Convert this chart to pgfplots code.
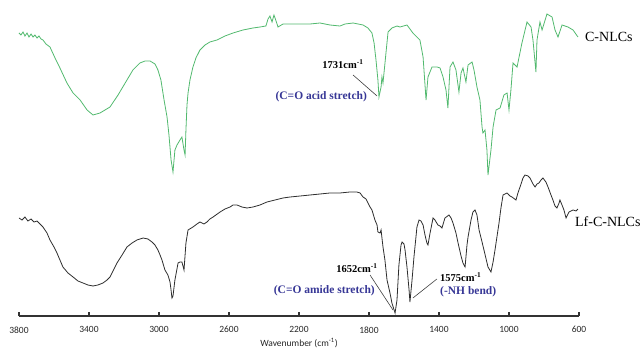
\documentclass[border=0pt]{standalone}
\usepackage{fontspec}
\setmainfont{Liberation Serif}
\newfontfamily\carlito{Carlito}
\usepackage{pgfplots}
\pgfplotsset{compat=1.18}
\definecolor{cgreen}{RGB}{82,185,110}
\definecolor{cblack}{RGB}{45,45,45}
\definecolor{cblue}{RGB}{55,55,150}
\begin{document}
\begin{tikzpicture}
\useasboundingbox (-19pt,-35pt) rectangle (624pt,316pt);
\begin{axis}[
  at={(0pt,0pt)}, anchor=south west, scale only axis,
  width=560pt, height=316pt,
  xmin=600, xmax=3800, x dir=reverse, ymin=0, ymax=316,
  axis x line=bottom, axis y line=none,
  x axis line style={-, line width=1.2pt, black!80},
  xtick={600,1000,...,3800}, tick align=inside, major tick length=4pt,
  xtick style={line width=1.2pt, black!80},
  xticklabel style={font=\carlito\fontsize{9.5}{11}\selectfont, text=black!85, yshift=-7pt},
  /pgf/number format/1000 sep={}, /pgf/number format/assume math mode=true,
  xlabel={Wavenumber (cm\textsuperscript{-1})},
  xlabel style={font=\carlito\fontsize{9.5}{11}\selectfont, text=black!85, yshift=2pt},
  clip=false,
]
% C-NLCs (green)
\addplot[cgreen, line width=0.8pt] coordinates {
(3800,283)(3789,281)(3777,284)(3766,280)(3754,283)(3743,279)(3731,282)(3720,279)(3709,281)(3697,278)(3686,280)(3674,277)(3663,276)
(3646,272)(3623,269)(3594,258)(3566,248)(3526,233)(3491,223)(3451,216)(3411,206)(3377,201)(3337,203)(3280,209)(3234,221)(3183,236)
(3149,246)(3109,253)(3080,255)(3051,255)(3023,252)(3006,246)(2989,236)(2971,216)(2954,199)(2943,181)(2931,156)(2920,144)(2909,166)
(2897,171)(2880,176)(2869,179)(2857,166)(2851,161)(2846,186)(2840,211)(2834,223)(2823,236)(2806,249)(2789,258)(2766,266)(2737,271)
(2709,274)(2669,276)(2623,280)(2577,283)(2520,286)(2463,288)(2423,289)(2389,290)(2377,297)(2366,300)(2354,294)(2343,301)(2331,295)
(2320,289)(2291,292)(2251,292)(2194,292)(2137,292)(2080,293)(2023,291)(1966,290)(1937,292)(1891,293)(1834,291)(1806,288)(1783,283)
(1771,273)(1760,256)(1749,236)(1743,219)(1731,229)(1726,239)(1720,233)(1703,263)(1691,284)(1669,288)(1640,290)(1623,289)(1583,291)
(1549,283)(1509,276)(1491,259)(1474,216)(1463,239)(1440,249)(1411,249)(1394,248)(1377,239)(1360,226)(1349,208)(1337,249)(1320,254)
(1303,246)(1286,224)(1274,243)(1263,248)(1246,234)(1234,251)(1211,254)(1200,246)(1183,229)(1166,216)(1154,189)(1149,183)(1137,186)
(1126,166)(1120,141)(1103,166)(1091,189)(1074,206)(1051,208)(1029,221)(1011,223)(1000,206)(989,226)(977,253)(954,249)(926,273)
(897,294)(874,289)(863,276)(846,244)(840,276)(823,294)(811,286)(783,302)(754,299)(737,286)(720,279)(697,291)(663,289)(634,286)(606,279)
};
% Lf-C-NLCs (black)
\addplot[cblack, line width=0.8pt] coordinates {
(3800,98)(3783,96)(3766,99)(3749,95)(3731,97)(3714,94)(3697,95)(3680,92)(3663,89)(3640,83)(3623,76)(3600,69)(3583,63)(3566,56)
(3549,49)(3520,43)(3491,39)(3463,35)(3434,33)(3406,31)(3377,30)(3349,31)(3320,33)(3297,36)(3280,39)(3263,45)(3240,53)(3211,61)
(3183,69)(3154,73)(3126,76)(3091,78)(3063,77)(3040,74)(3023,71)(3006,66)(2994,61)(2983,56)(2966,46)(2949,41)(2937,34)(2931,26)
(2926,18)(2920,20)(2909,36)(2891,53)(2880,54)(2869,54)(2857,46)(2846,73)(2834,86)(2806,89)(2783,92)(2766,94)(2743,92)(2726,94)
(2709,97)(2691,99)(2651,104)(2623,107)(2594,109)(2577,111)(2554,111)(2526,109)(2497,108)(2463,109)(2423,111)(2383,114)(2337,116)
(2291,118)(2251,119)(2194,120)(2137,121)(2080,122)(2023,123)(1966,123)(1909,124)(1869,124)(1851,123)(1834,119)(1817,117)(1806,113)
(1794,109)(1783,106)(1766,96)(1754,91)(1749,84)(1737,83)(1731,86)(1720,69)(1709,56)(1697,36)(1680,23)(1669,13)(1651,3)(1640,16)
(1629,51)(1617,71)(1611,74)(1600,72)(1594,66)(1583,49)(1571,26)(1566,14)(1554,36)(1543,59)(1526,89)(1514,96)(1503,95)(1491,91)
(1480,81)(1469,73)(1463,71)(1451,83)(1434,98)(1423,96)(1406,91)(1394,90)(1383,88)(1366,98)(1343,101)(1331,98)(1320,93)(1303,83)
(1291,73)(1274,60)(1263,53)(1251,49)(1240,71)(1234,79)(1217,96)(1206,104)(1194,106)(1183,101)(1171,86)(1154,74)(1143,66)(1120,49)
(1103,44)(1091,54)(1080,66)(1057,93)(1046,108)(1034,121)(1011,123)(994,120)(983,119)(960,116)(949,123)(937,129)(920,138)(909,141)
(891,140)(880,138)(863,132)(851,129)(840,132)(829,133)(817,136)(806,138)(789,134)(777,129)(760,121)(749,116)(737,110)(726,108)
(714,113)(709,116)(697,111)(686,106)(674,98)(663,102)(657,104)(646,105)(634,106)(617,105)(606,107)
};
% series labels
\node[anchor=west, font=\fontsize{14}{16}\selectfont, inner sep=0pt] at (axis cs:566,279) {C-NLCs};
\node[anchor=west, font=\fontsize{14}{16}\selectfont, inner sep=0pt] at (axis cs:623,94) {Lf-C-NLCs};
% annotations
\node[font=\bfseries\fontsize{10.5}{12}\selectfont, inner sep=0pt] at (axis cs:1949,252) {1731cm\textsuperscript{-1}};
\node[anchor=east, font=\bfseries\fontsize{11.5}{13}\selectfont, text=cblue, inner sep=0pt] at (axis cs:1811,219) {(C=O acid stretch)};
\draw[black!75, line width=0.6pt] (axis cs:1891,241) -- (axis cs:1754,220);
\node[font=\bfseries\fontsize{10.5}{12}\selectfont, inner sep=0pt] at (axis cs:1869,48) {1652cm\textsuperscript{-1}};
\node[anchor=east, font=\bfseries\fontsize{11.5}{13}\selectfont, text=cblue, inner sep=0pt] at (axis cs:1766,25) {(C=O amide stretch)};
\draw[black!75, line width=0.6pt] (axis cs:1794,41) -- (axis cs:1663,6);
\node[anchor=west, font=\bfseries\fontsize{10.5}{12}\selectfont, inner sep=0pt] at (axis cs:1394,39) {1575cm\textsuperscript{-1}};
\node[anchor=west, font=\bfseries\fontsize{11.5}{13}\selectfont, text=cblue, inner sep=0pt] at (axis cs:1394,24) {(-NH bend)};
\draw[black!75, line width=0.6pt] (axis cs:1412,37) -- (axis cs:1549,18);
\end{axis}
\end{tikzpicture}
\end{document}
